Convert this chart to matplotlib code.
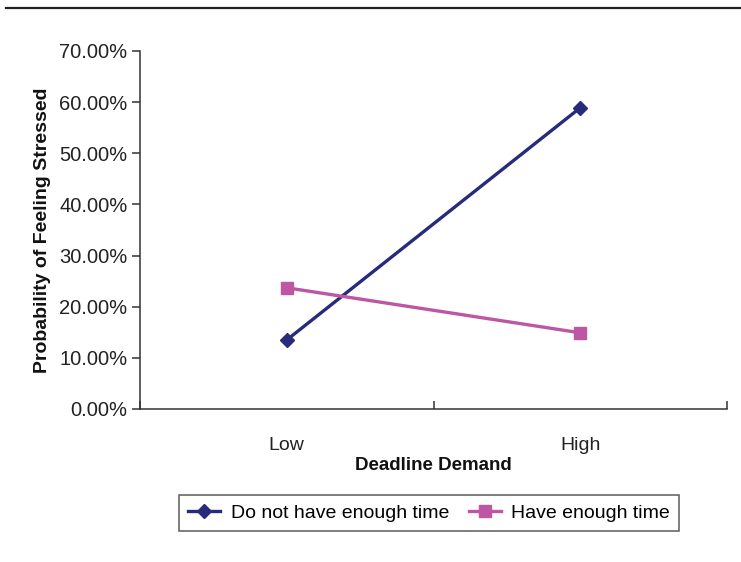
import matplotlib
matplotlib.use("Agg")
import matplotlib.pyplot as plt
from matplotlib.lines import Line2D
from matplotlib.ticker import FuncFormatter

categories = ["Low", "High"]
not_enough = [13.5, 58.9]
enough = [23.7, 14.9]
yticks = [0, 10, 20, 30, 40, 50, 60, 70]

plt.rcParams['font.family'] = ['Liberation Sans', 'DejaVu Sans']

fig = plt.figure(figsize=(7.41, 5.62), dpi=100)
ax = fig.add_axes([140/741, 1-409/562, 587/741, 358/562])

blue = '#272B7B'
pink = '#BD56A3'
x = list(range(len(categories)))
ax.plot(x, not_enough, color=blue, lw=2.4, marker='D', ms=7.5, label='Do not have enough time', zorder=3)
ax.plot(x, enough, color=pink, lw=2.4, marker='s', ms=9, label='Have enough time', zorder=3)

ax.set_xlim(-0.5, 1.5)
ax.set_ylim(0, 70)
ax.set_yticks(yticks)
ax.yaxis.set_major_formatter(FuncFormatter(lambda v, p: f"{v:.2f}%"))
ax.set_xticks(x)
ax.set_xticklabels(categories)
ax.set_xticks([-0.5, 0.5, 1.5], minor=True)
ax.tick_params(axis='x', which='major', length=0, pad=20, labelsize=14, colors='#222222')
ax.tick_params(axis='x', which='minor', direction='in', length=6, width=1.1, color='#333333')
ax.tick_params(axis='y', direction='out', length=6, width=1.1, color='#333333', labelsize=14.5, labelcolor='#222222', pad=3)

ax.spines['top'].set_visible(False)
ax.spines['right'].set_visible(False)
for s in ['left', 'bottom']:
    ax.spines[s].set_color('#333333')
    ax.spines[s].set_linewidth(1.1)

ax.set_xlabel('Deadline Demand', fontsize=13.5, fontweight='bold', labelpad=2, color='#111111')
ax.set_ylabel('Probability of Feeling Stressed', fontsize=14, fontweight='bold', labelpad=6, color='#111111')

leg = fig.legend(loc='center', bbox_to_anchor=(429/741, 1-513/562), ncol=2, fontsize=14,
                 frameon=True, fancybox=False, edgecolor='#333333', handlelength=1.65,
                 columnspacing=1.0, borderpad=0.45, handletextpad=0.55)
leg.get_frame().set_linewidth(1.1)

fig.add_artist(Line2D([6/741, 1.0], [1-8/562, 1-8/562], color='#222222', lw=1.6, transform=fig.transFigure))

fig.savefig('out.png', dpi=100)
